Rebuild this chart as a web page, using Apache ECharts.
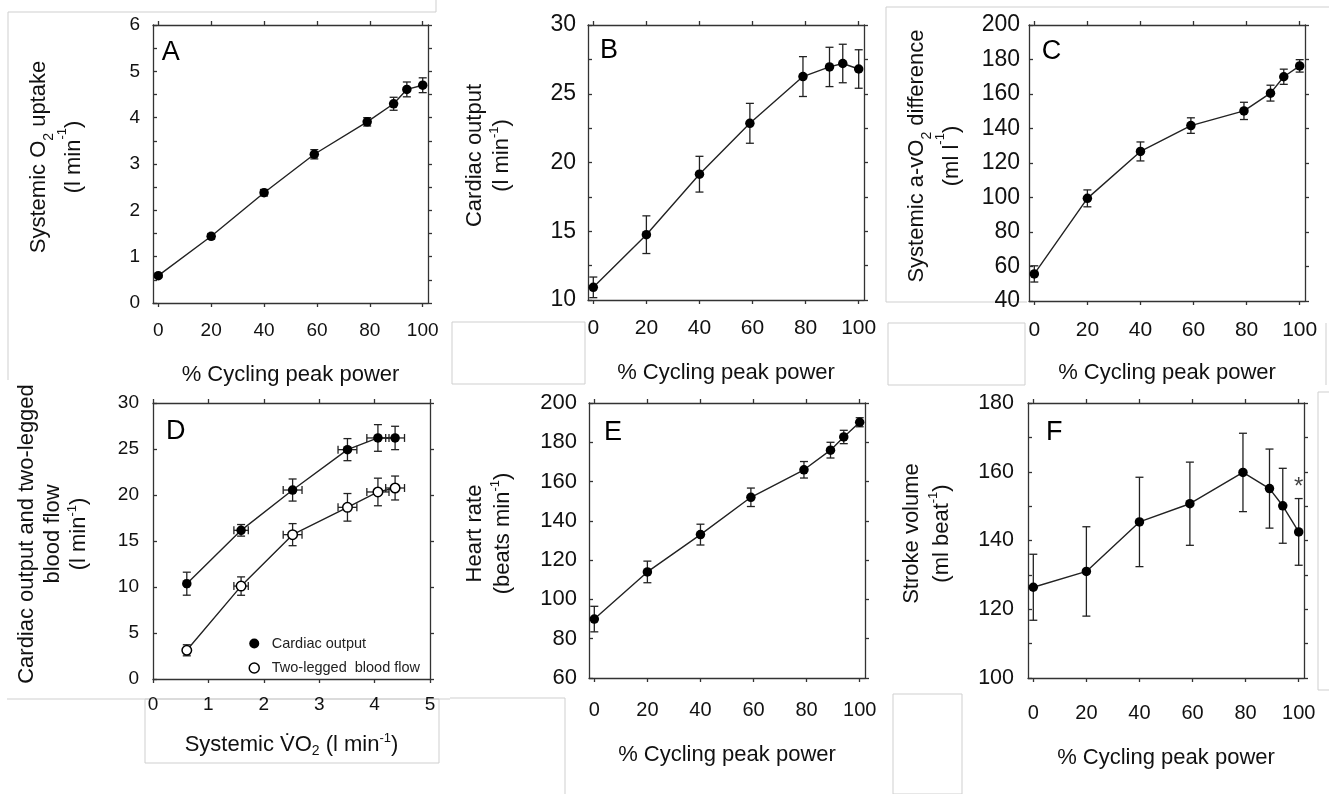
<!DOCTYPE html>
<html>
<head>
<meta charset="utf-8">
<script src="https://cdn.jsdelivr.net/npm/echarts@6/dist/echarts.min.js"></script>
<style>
  html, body { margin: 0; padding: 0; background: #fff; }
  #chart { width: 1329px; height: 794px; }
</style>
</head>
<body>
<div id="chart"></div>
<script>
// ---------------- data ----------------
const pctPower = [0, 20, 40, 59, 79, 89, 94, 100];
const pctTicks = [0, 20, 40, 60, 80, 100];

const o2Uptake = [0.59, 1.44, 2.38, 3.21, 3.91, 4.30, 4.61, 4.70];
const o2UptakeErr = [0.04, 0.06, 0.07, 0.10, 0.09, 0.14, 0.16, 0.16];

const cardiacOutput = [10.92, 14.75, 19.15, 22.85, 26.25, 26.95, 27.2, 26.8];
const cardiacOutputErr = [0.75, 1.37, 1.3, 1.45, 1.45, 1.43, 1.4, 1.4];

const avo2Diff = [55.7, 99.5, 126.7, 141.7, 150.2, 160.5, 170.0, 176.3];
const avo2DiffErr = [4.7, 4.9, 5.5, 4.5, 5.0, 4.6, 4.4, 3.6];

const vo2 = [0.61, 1.59, 2.52, 3.51, 4.06, 4.37];
const vo2Err = [0.04, 0.13, 0.17, 0.17, 0.20, 0.17];
const dCardiacOutput = [10.36, 16.16, 20.54, 24.93, 26.2, 26.2];
const dCardiacOutputErr = [1.25, 0.63, 1.2, 1.2, 1.45, 1.27];
const legBloodFlow = [3.12, 10.1, 15.69, 18.66, 20.33, 20.76];
const legBloodFlowErr = [0.6, 1.0, 1.2, 1.5, 1.5, 1.3];

const heartRate = [90.0, 114, 133, 152, 166, 176, 182.7, 190.2];
const heartRateErr = [6.5, 5.5, 5.3, 4.7, 4.2, 4.0, 3.4, 2.3];

const strokeVolume = [126.4, 131.0, 145.4, 150.7, 159.8, 155.1, 150.1, 142.5];
const strokeVolumeErr = [9.6, 13, 13, 12.1, 11.4, 11.5, 10.9, 9.7];

const asteriskPoint = [100, 155.5];

// ---------------- styling helpers ----------------
const FONT = '"Liberation Sans", Arial, Helvetica, sans-serif';
const AXIS_COLOR = '#333';
const TEXT_COLOR = '#111';

function nameStyle(fs, lh, pad) {
  return {
    fontSize: fs, lineHeight: lh, color: TEXT_COLOR, fontFamily: FONT,
    padding: pad || 0,
    rich: {
      n: { fontSize: fs, lineHeight: lh, color: TEXT_COLOR, fontFamily: FONT },
      sub: { fontSize: Math.round(fs * 0.65), lineHeight: lh - 10, verticalAlign: 'bottom', color: TEXT_COLOR, fontFamily: FONT },
      sup: { fontSize: Math.round(fs * 0.6), lineHeight: lh - 14, verticalAlign: 'top', color: TEXT_COLOR, fontFamily: FONT }
    }
  };
}

const lineStyleAxis = { color: AXIS_COLOR, width: 1.3 };

function buildAxes(gi, c) {
  const xBottom = {
    type: 'value', gridIndex: gi, position: 'bottom', min: c.xmin, max: c.xmax,
    axisLine: { show: true, onZero: false, lineStyle: lineStyleAxis },
    axisTick: { show: true, inside: false, length: 4, lineStyle: lineStyleAxis },
    axisLabel: { show: true, margin: c.xLblMargin, fontSize: c.lblFs, color: TEXT_COLOR, fontFamily: FONT },
    splitLine: { show: false },
    name: c.xName, nameLocation: 'middle', nameGap: c.xNameGap,
    nameTextStyle: nameStyle(22, c.xNameLh)
  };
  const xTop = {
    type: 'value', gridIndex: gi, position: 'top', min: c.xmin, max: c.xmax,
    axisLine: { show: true, onZero: false, lineStyle: lineStyleAxis },
    axisTick: { show: true, inside: false, length: 4, lineStyle: lineStyleAxis },
    axisLabel: { show: false },
    splitLine: { show: false }
  };
  if (c.xTicks) {
    xBottom.axisTick.customValues = c.xTicks;
    xBottom.axisLabel.customValues = c.xTicks;
    xTop.axisTick.customValues = c.xTicks;
  } else {
    xBottom.interval = c.xInterval;
    xTop.interval = c.xInterval;
  }
  const minor = { show: c.yMinor > 1, splitNumber: c.yMinor, length: 4, lineStyle: lineStyleAxis };
  const yLeft = {
    type: 'value', gridIndex: gi, position: 'left', min: c.ymin, max: c.ymax, interval: c.yInterval,
    axisLine: { show: true, onZero: false, lineStyle: lineStyleAxis },
    axisTick: { show: true, inside: true, length: 4, lineStyle: lineStyleAxis },
    minorTick: minor,
    axisLabel: { show: true, margin: c.yLblMargin, fontSize: c.yLblFs, color: TEXT_COLOR, fontFamily: FONT },
    splitLine: { show: false }, minorSplitLine: { show: false },
    name: c.yName, nameLocation: 'middle', nameGap: c.yNameGap, nameRotate: 90,
    nameTextStyle: nameStyle(22, c.yNameLh, [0, 0, 0, 14])
  };
  const yRight = {
    type: 'value', gridIndex: gi, position: 'right', min: c.ymin, max: c.ymax, interval: c.yInterval,
    axisLine: { show: true, onZero: false, lineStyle: lineStyleAxis },
    axisTick: { show: true, inside: false, length: 4, lineStyle: lineStyleAxis },
    minorTick: minor,
    axisLabel: { show: false },
    splitLine: { show: false }, minorSplitLine: { show: false }
  };
  return { x: [xBottom, xTop], y: [yLeft, yRight] };
}

// error bar renderer (vertical, optional horizontal)
function errRender(params, api) {
  const x = api.value(0), y = api.value(1), ey = api.value(2), ex = api.value(3);
  const st = { stroke: '#222', lineWidth: 1.3 };
  const cap = 4;
  const children = [];
  const t = api.coord([x, y + ey]);
  const b = api.coord([x, y - ey]);
  children.push({ type: 'line', shape: { x1: t[0], y1: t[1], x2: b[0], y2: b[1] }, style: st });
  children.push({ type: 'line', shape: { x1: t[0] - cap, y1: t[1], x2: t[0] + cap, y2: t[1] }, style: st });
  children.push({ type: 'line', shape: { x1: b[0] - cap, y1: b[1], x2: b[0] + cap, y2: b[1] }, style: st });
  if (ex && ex > 0) {
    const l = api.coord([x - ex, y]);
    const r = api.coord([x + ex, y]);
    children.push({ type: 'line', shape: { x1: l[0], y1: l[1], x2: r[0], y2: r[1] }, style: st });
    children.push({ type: 'line', shape: { x1: l[0], y1: l[1] - cap, x2: l[0], y2: l[1] + cap }, style: st });
    children.push({ type: 'line', shape: { x1: r[0], y1: r[1] - cap, x2: r[0], y2: r[1] + cap }, style: st });
  }
  return { type: 'group', children: children };
}

function errSeries(gi, xs, ys, es, exs) {
  return {
    type: 'custom', xAxisIndex: 2 * gi, yAxisIndex: 2 * gi, renderItem: errRender,
    encode: { x: 0, y: 1 }, silent: true, z: 2, clip: false,
    data: xs.map((x, i) => [x, ys[i], es[i], exs ? exs[i] : 0])
  };
}
function lineSeries(gi, name, xs, ys, open) {
  return {
    type: 'line', name: name, xAxisIndex: 2 * gi, yAxisIndex: 2 * gi, z: 3,
    data: xs.map((x, i) => [x, ys[i]]),
    symbol: 'circle', symbolSize: 9.5, showAllSymbol: true,
    itemStyle: open ? { color: '#fff', borderColor: '#000', borderWidth: 1.5 } : { color: '#000', borderColor: '#000', borderWidth: 0 },
    lineStyle: { color: '#222', width: 1.4 },
    emphasis: { disabled: true }, animation: false, silent: true
  };
}

// ---------------- panels ----------------
const pctName = '% Cycling peak power';
const panels = [
  { grid: { left: 153, top: 25, width: 275, height: 278 },
    xmin: -2, xmax: 102, xTicks: pctTicks, ymin: 0, ymax: 6, yInterval: 1, yMinor: 2,
    lblFs: 19, yLblFs: 19, xLblMargin: 18, yLblMargin: 13,
    xName: pctName, xNameGap: 61, xNameLh: 22,
    yName: '{n|Systemic O}{sub|2}{n| uptake}\n{n|(l min}{sup|-1}{n|)}', yNameGap: 62, yNameLh: 35 },
  { grid: { left: 588, top: 25, width: 276, height: 275 },
    xmin: -2, xmax: 102, xTicks: pctTicks, ymin: 10, ymax: 30, yInterval: 5, yMinor: 2,
    lblFs: 21, yLblFs: 23, xLblMargin: 18, yLblMargin: 12,
    xName: pctName, xNameGap: 62, xNameLh: 22,
    yName: '{n|Cardiac output}\n{n|(l min}{sup|-1}{n|)}', yNameGap: 73, yNameLh: 27 },
  { grid: { left: 1029, top: 25, width: 276, height: 276 },
    xmin: -2, xmax: 102, xTicks: pctTicks, ymin: 40, ymax: 200, yInterval: 20, yMinor: 1,
    lblFs: 21, yLblFs: 23, xLblMargin: 19, yLblMargin: 9,
    xName: pctName, xNameGap: 61, xNameLh: 22,
    yName: '{n|Systemic a-vO}{sub|2}{n| difference}\n{n|(ml l}{sup|-1}{n|)}', yNameGap: 60, yNameLh: 35 },
  { grid: { left: 153, top: 403, width: 277, height: 276 },
    xmin: 0, xmax: 5, xTicks: null, xInterval: 1, ymin: 0, ymax: 30, yInterval: 5, yMinor: 1,
    lblFs: 19, yLblFs: 19, xLblMargin: 16, yLblMargin: 14,
    xName: '{n|Systemic V\u0307O}{sub|2}{n| (l min}{sup|-1}{n|)}', xNameGap: 53, xNameLh: 26,
    yName: '{n|Cardiac output and two-legged}\n{n|blood flow}\n{n|(l min}{sup|-1}{n|)}', yNameGap: 61, yNameLh: 26 },
  { grid: { left: 589, top: 403, width: 276, height: 275 },
    xmin: -2, xmax: 102, xTicks: pctTicks, ymin: 60, ymax: 200, yInterval: 20, yMinor: 1,
    lblFs: 20, yLblFs: 22, xLblMargin: 22, yLblMargin: 12,
    xName: pctName, xNameGap: 66, xNameLh: 22,
    yName: '{n|Heart rate}\n{n|(beats min}{sup|-1}{n|)}', yNameGap: 72, yNameLh: 28 },
  { grid: { left: 1028, top: 403, width: 276, height: 275 },
    xmin: -2, xmax: 102, xTicks: pctTicks, ymin: 100, ymax: 180, yInterval: 20, yMinor: 2,
    lblFs: 20, yLblFs: 21.5, xLblMargin: 25, yLblMargin: 14,
    xName: pctName, xNameGap: 69, xNameLh: 22,
    yName: '{n|Stroke volume}\n{n|(ml beat}{sup|-1}{n|)}', yNameGap: 71, yNameLh: 30 }
];

const grids = [], xAxes = [], yAxes = [];
panels.forEach((p, i) => {
  grids.push(Object.assign({ outerBoundsMode: 'none', containLabel: false }, p.grid));
  const a = buildAxes(i, p);
  xAxes.push(a.x[0], a.x[1]);
  yAxes.push(a.y[0], a.y[1]);
});

const series = [
  errSeries(0, pctPower, o2Uptake, o2UptakeErr),
  lineSeries(0, 'O2 uptake', pctPower, o2Uptake),
  errSeries(1, pctPower, cardiacOutput, cardiacOutputErr),
  lineSeries(1, 'Cardiac output B', pctPower, cardiacOutput),
  errSeries(2, pctPower, avo2Diff, avo2DiffErr),
  lineSeries(2, 'a-vO2 difference', pctPower, avo2Diff),
  errSeries(3, vo2, dCardiacOutput, dCardiacOutputErr, vo2Err),
  errSeries(3, vo2, legBloodFlow, legBloodFlowErr, vo2Err),
  lineSeries(3, 'Cardiac output', vo2, dCardiacOutput, false),
  lineSeries(3, 'Two-legged  blood flow', vo2, legBloodFlow, true),
  errSeries(4, pctPower, heartRate, heartRateErr),
  lineSeries(4, 'Heart rate', pctPower, heartRate),
  errSeries(5, pctPower, strokeVolume, strokeVolumeErr),
  lineSeries(5, 'Stroke volume', pctPower, strokeVolume),
  { type: 'scatter', xAxisIndex: 10, yAxisIndex: 10, data: [asteriskPoint], symbolSize: 0, silent: true, z: 5,
    label: { show: true, position: 'inside', formatter: '*', fontSize: 24, color: '#111', fontFamily: FONT } }
];

const panelLetters = [
  ['A', 161.7, 52.8], ['B', 600, 50.5], ['C', 1041.7, 51.7],
  ['D', 166, 432], ['E', 604, 433], ['F', 1046, 432.5]
];

const boxStroke = { stroke: '#cfcfcf', lineWidth: 1, fill: null };
const graphic = [
  { type: 'polyline', z: -1, shape: { points: [[436, 0], [436, 12], [8, 12], [8, 380]] }, style: boxStroke },
  { type: 'rect', z: -1, shape: { x: 452, y: 322, width: 133, height: 62 }, style: boxStroke },
  { type: 'polyline', z: -1, shape: { points: [[1329, 7], [886, 7], [886, 302], [1027, 302]] }, style: boxStroke },
  { type: 'rect', z: -1, shape: { x: 888, y: 323, width: 137, height: 62 }, style: boxStroke },
  { type: 'polyline', z: -1, shape: { points: [[1326, 323], [1326, 385]] }, style: boxStroke },
  { type: 'polyline', z: -1, shape: { points: [[7, 699], [450, 699]] }, style: boxStroke },
  { type: 'rect', z: -1, shape: { x: 145, y: 699, width: 294, height: 64 }, style: boxStroke },
  { type: 'polyline', z: -1, shape: { points: [[450, 698], [565, 698], [565, 794]] }, style: boxStroke },
  { type: 'rect', z: -1, shape: { x: 893, y: 694, width: 69, height: 100 }, style: boxStroke },
  { type: 'polyline', z: -1, shape: { points: [[1329, 392], [1318, 392], [1318, 690], [1329, 690]] }, style: boxStroke }
];
panelLetters.forEach(l => {
  graphic.push({ type: 'text', x: l[1], y: l[2], z: 10,
    style: { text: l[0], font: '27px ' + FONT, fill: '#000', textVerticalAlign: 'middle', verticalAlign: 'middle' } });
});

const option = {
  animation: false,
  backgroundColor: '#fff',
  grid: grids,
  xAxis: xAxes,
  yAxis: yAxes,
  legend: {
    show: true, orient: 'vertical', left: 248.5, top: 636, padding: 0,
    itemWidth: 25, itemHeight: 10, itemGap: 9.5,
    selectedMode: false,
    lineStyle: { width: 0, opacity: 0 },
    textStyle: { fontSize: 14.5, color: '#222', fontFamily: FONT },
    data: [
      { name: 'Cardiac output', icon: 'circle', itemStyle: { color: '#000', borderWidth: 0 } },
      { name: 'Two-legged  blood flow', icon: 'circle', itemStyle: { color: '#fff', borderColor: '#000', borderWidth: 1.5 } }
    ]
  },
  graphic: graphic,
  series: series
};

const chart = echarts.init(document.getElementById('chart'), null, { renderer: 'canvas' });
chart.setOption(option);
</script>
</body>
</html>
